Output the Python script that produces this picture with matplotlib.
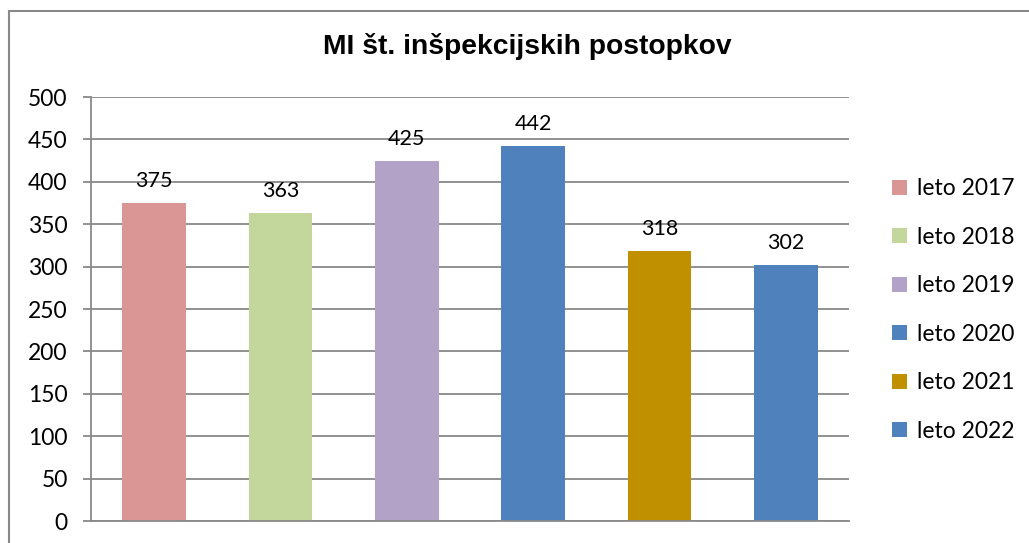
import matplotlib.pyplot as plt
from matplotlib.patches import Rectangle

# podatki
leta = ['leto 2017', 'leto 2018', 'leto 2019', 'leto 2020', 'leto 2021', 'leto 2022']
postopki = [375, 363, 425, 442, 318, 302]
barve = ['#D99694', '#C3D69B', '#B3A2C7', '#4F81BD', '#C09000', '#4F81BD']
naslov = 'MI št. inšpekcijskih postopkov'

W, H = 1029, 543
fig = plt.figure(figsize=(W / 100, H / 100), dpi=100)

# okvir grafikona (desni in spodnji rob sta odrezana)
fig.patches.append(Rectangle((9 / W, -0.1), 1.2, 1 - 11 / H + 0.1,
                             transform=fig.transFigure, fill=False,
                             edgecolor='#898989', linewidth=1.5))

ax = fig.add_axes([91 / W, 1 - 521 / H, (849 - 91) / W, (521 - 97) / H])
x = range(len(postopki))
stolpci = ax.bar(x, postopki, width=0.505, color=barve, label=leta, zorder=2)

for xi, v in zip(x, postopki):
    ax.text(xi, v + 14, str(v), ha='center', va='bottom',
            fontsize=15.5, family='Lato')

ax.set_ylim(0, 500)
ax.set_xlim(-0.5, len(postopki) - 0.5)
ax.set_yticks(range(0, 501, 50))
ax.set_xticks([])
ax.yaxis.grid(True, color='#898989', linewidth=1.3, zorder=0)
for s in ['top', 'right']:
    ax.spines[s].set_visible(False)
ax.spines['left'].set_color('#898989')
ax.spines['bottom'].set_color('#898989')
ax.spines['left'].set_linewidth(1.3)
ax.spines['bottom'].set_linewidth(1.3)
ax.tick_params(axis='y', length=5.8, width=1.3, color='#898989',
               labelsize=16.5, pad=11)
for t in ax.get_yticklabels():
    t.set_family('Lato')

fig.text((322 + 733) / 2 / W, 1 - 47 / H, naslov, ha='center', va='center',
         fontsize=20.3, fontweight='bold', family='Liberation Sans')

leg = fig.legend(handles=list(stolpci), labels=leta, loc='center left',
                 bbox_to_anchor=(892 / W, 1 - 310 / H), frameon=False,
                 prop={'family': 'Lato', 'size': 16.5},
                 borderpad=0, borderaxespad=0,
                 handlelength=0.65, handleheight=0.65, handletextpad=0.45,
                 labelspacing=1.2)

fig.savefig('out.png', dpi=100)
